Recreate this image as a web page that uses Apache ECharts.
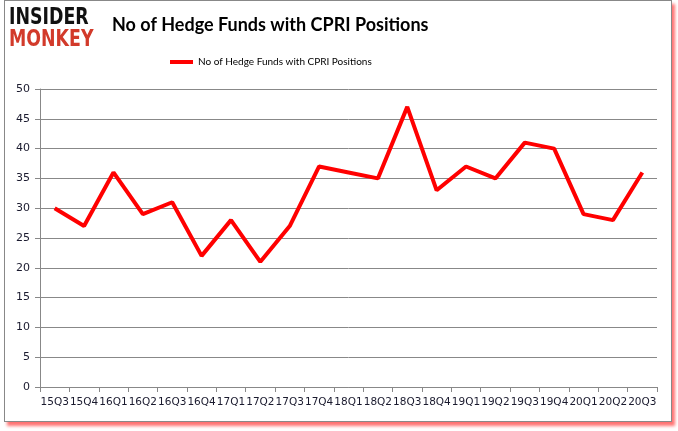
<!DOCTYPE html>
<html><head><meta charset="utf-8">
<script src="https://cdn.jsdelivr.net/npm/echarts@6/dist/echarts.min.js"></script>
<style>
html,body{margin:0;padding:0;background:#fff;}
#frame{position:absolute;left:4px;top:0px;width:666px;height:420px;border:1px solid #888;box-shadow:3px 4px 3px rgba(255,0,0,0.55);background:#fff;}
#c{position:absolute;left:0;top:0;width:678px;height:431px;}
</style></head>
<body>
<div id="frame"></div>
<div id="c"></div>
<script>
const categories = ["15Q3","15Q4","16Q1","16Q2","16Q3","16Q4","17Q1","17Q2","17Q3","17Q4","18Q1","18Q2","18Q3","18Q4","19Q1","19Q2","19Q3","19Q4","20Q1","20Q2","20Q3"];
const hedgeFunds = [30,27,36,29,31,22,28,21,27,37,36,35,47,33,37,35,41,40,29,28,36];
const yTicks = [0,5,10,15,20,25,30,35,40,45,50];
const seriesName = "No of Hedge Funds with CPRI Positions";

const chart = echarts.init(document.getElementById('c'));
chart.setOption({
  animation:false,
  backgroundColor:'transparent',
  title:{text:seriesName,left:112,top:16,padding:0,textStyle:{fontFamily:'Lato',fontSize:18,fontWeight:'bold',color:'#000'}},
  legend:{data:[seriesName],top:57,left:170,padding:0,itemWidth:23,itemHeight:4,itemGap:1,
    textStyle:{fontFamily:'Lato',fontSize:10,color:'#000'},icon:'rect'},
  graphic:[
    {type:'text',left:9,top:7,scaleX:0.84,style:{text:'INSIDER',font:'900 23px "DejaVu Sans Condensed", "DejaVu Sans"',fill:'#111'}},
    {type:'text',left:9,top:29,scaleX:0.84,style:{text:'MONKEY',font:'900 23px "DejaVu Sans Condensed", "DejaVu Sans"',fill:'#d23a2a'}}
  ],
  grid:{left:40,right:21,top:89,bottom:44,containLabel:false},
  xAxis:{type:'category',data:categories,boundaryGap:true,
    axisLine:{lineStyle:{color:'#888'}},
    axisTick:{show:true,alignWithLabel:false,length:5,lineStyle:{color:'#888'}},
    axisLabel:{interval:0,margin:10,fontFamily:'DejaVu Sans',fontSize:10.5,color:'#1a1a2e'}},
  yAxis:{type:'value',min:0,max:50,interval:5,
    axisLine:{show:true,lineStyle:{color:'#888'}},
    axisTick:{show:true,length:5,lineStyle:{color:'#888'}},
    splitLine:{lineStyle:{color:'#888',width:1}},
    axisLabel:{margin:10,fontFamily:'DejaVu Sans',fontSize:11,color:'#1a1a2e',
      formatter:v=>yTicks.includes(v)?String(v):''}},
  series:[{name:seriesName,type:'line',data:hedgeFunds,symbol:'none',
    lineStyle:{color:'#ff0000',width:4},itemStyle:{color:'#ff0000'}}]
});
</script>
</body></html>
